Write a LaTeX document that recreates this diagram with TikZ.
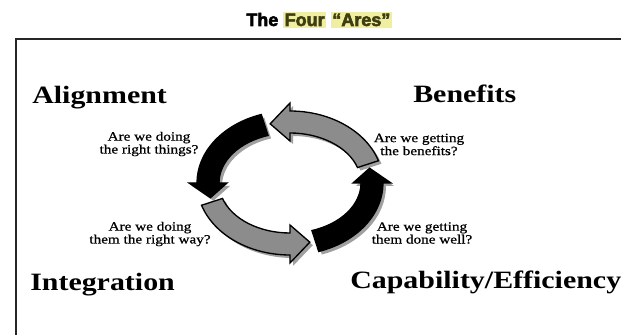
\documentclass[tikz,border=0pt]{standalone}
\usepackage{fontspec}
\setmainfont{Liberation Serif}[FakeStretch=1.2]
\newfontfamily\titlefont{Liberation Sans}[BoldFeatures={FakeBold=3}]
\newfontfamily\questionfont{Liberation Serif}[FakeStretch=1.2, FakeBold=0.8]
\usepackage{xcolor}
\definecolor{TitleHighlight}{RGB}{240,238,160}
\definecolor{TitleText}{RGB}{62,62,18}
\definecolor{ArrowGray}{RGB}{140,140,140}
\definecolor{ShadowGray}{RGB}{160,160,160}

% yellow marker behind a title word
\newcommand{\hlword}[1]{{\setlength{\fboxsep}{1pt}\colorbox{TitleHighlight}{\color{TitleText}#1}}}

% one arc of the cycle: tail angle, head base angle, tip angle
\newcommand{\cyclepath}[3]{(#1:93 and 72) arc[start angle=#1, end angle=#2, x radius=93, y radius=72]
  -- (#2:101 and 80) -- (#3:82 and 61) -- (#2:63 and 42) -- (#2:71 and 50)
  arc[start angle=#2, end angle=#1, x radius=71, y radius=50] -- cycle}

\tikzset{
  area/.style={font=\fontsize{18.7}{20}\selectfont\bfseries, inner sep=0pt, anchor=base west},
  question/.style={font=\questionfont\fontsize{9.5}{8.6}\selectfont, align=center, inner sep=0pt}
}

\begin{document}
\begin{tikzpicture}[x=0.75pt,y=0.75pt]
  \useasboundingbox[fill=white] (0,0) rectangle (621,335);

  % title
  \node[anchor=base, inner sep=0pt] (title) at (319,309)
    {\titlefont\bfseries\fontsize{13.5}{15}\selectfont The \hlword{Four} \hlword{“Ares”}};

  % frame, open to the right and bottom
  \draw[line width=1.5pt, black!85] (15.5,-5) -- (15.5,296) -- (630,296);

  % the four areas
  \node[area] (alignment) at (32,231) {Alignment};
  \node[area] (benefits) at (413,232) {Benefits};
  \node[area] (integration) at (30,44) {Integration};
  \node[area] (capability) at (350,46) {Capability/Efficiency};

  % questions
  \node[question] (qright) at (149,191) {Are we doing\\the right things?};
  \node[question] (qbenefit) at (419,190.5) {Are we getting\\the benefits?};
  \node[question] (qway) at (150,101) {Are we doing\\them the right way?};
  \node[question] (qwell) at (422,102) {Are we getting\\them done well?};

  % cycle of arrows
  \begin{scope}[shift={(290,152)}]
    \foreach \tail/\base/\tip in {108/180/194, 198/270/284, 288/360/374, 18/90/104}
      \fill[ShadowGray, shift={(3,-3)}] \cyclepath{\tail}{\base}{\tip};
    \foreach \tail/\base/\tip/\col in {108/180/194/black, 198/270/284/ArrowGray, 288/360/374/black, 18/90/104/ArrowGray}
      \filldraw[fill=\col, draw=black, line width=1pt] \cyclepath{\tail}{\base}{\tip};
  \end{scope}
\end{tikzpicture}
\end{document}
